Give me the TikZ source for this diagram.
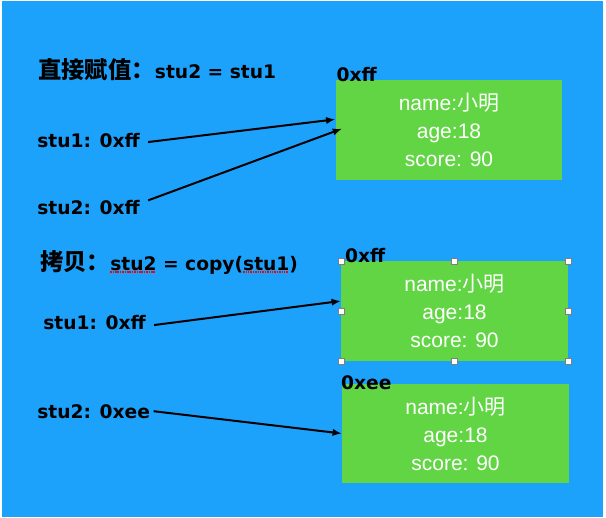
\documentclass[tikz,border=0pt]{standalone}
\usepackage{fontspec}
\usetikzlibrary{arrows.meta, positioning}
\setmainfont{Liberation Sans}
\newfontfamily\labelfont{DejaVu Sans}
\newfontfamily\cjkfont{Noto Sans CJK SC}
\definecolor{bgblue}{HTML}{1DA2FC}
\definecolor{objgreen}{HTML}{62D545}
\definecolor{handlegray}{HTML}{7F7F7F}
\newcommand{\cjktitle}[1]{{\cjkfont\fontsize{17.5}{20}\selectfont #1}}
\newsavebox{\spellbox}
\newcommand{\spellmark}[1]{\sbox{\spellbox}{#1}%
  \rlap{\color{red}\leaders\hbox{\rule[-2pt]{1.1pt}{0.9pt}\kern0.7pt}\hskip\wd\spellbox}\usebox{\spellbox}}

\tikzset{
  title/.style={anchor=base west, inner sep=0pt, font=\labelfont\bfseries\fontsize{14}{17}\selectfont},
  ptr/.style={anchor=base west, inner xsep=6pt, inner ysep=0pt, font=\labelfont\bfseries\fontsize{14}{17}\selectfont},
  addr/.style={anchor=base west, inner sep=0pt, font=\labelfont\bfseries\fontsize{14}{17}\selectfont},
  obj/.style={fill=objgreen, minimum width=170pt, minimum height=74.5pt, inner sep=0pt,
              align=center, text=white, font=\fontsize{15.75}{21}\selectfont},
  link/.style={-{Latex[length=7pt,width=5.5pt]}, line width=1.5pt},
  handle/.style={draw=handlegray, fill=white, line width=0.4pt, minimum size=4.5pt, inner sep=0pt}
}

\begin{document}
\begin{tikzpicture}[x=0.75pt, y=-0.75pt]
  \useasboundingbox (0,0) rectangle (606,517);
  \fill[bgblue] (2,1) rectangle (603,517);

  % direct assignment: both names share one object
  \node[title] (t1) at (38,79) {\cjktitle{直接赋值：}stu2 = stu1};
  \node[obj] (m1) at (449,130) {name:{\cjkfont 小明}\\age:18\\score: 90};
  \node[addr] (a1) at ([xshift=0.75pt, yshift=-1.1pt]m1.north west) {0xff};
  \node[ptr] (p1) at (29,147) {stu1: 0xff};
  \node[ptr] (p2) at (29,214) {stu2: 0xff};
  \draw[link] ([yshift=-1.5pt]p1.east) -- ([yshift=8pt]m1.west);
  \draw[link] ([yshift=5pt]p2.east) -- ([xshift=5pt, yshift=1pt]m1.west);

  % copy: a second object
  \node[title] (t2) at (40,270) {\cjktitle{拷贝：}\spellmark{stu2} = copy(\spellmark{stu1})};
  \node[obj] (m2) at (454.5,311) {name:{\cjkfont 小明}\\age:18\\score: 90};
  \node[addr] (a2) at ([xshift=3pt, yshift=-0.75pt]m2.north west) {0xff};
  \foreach \pos in {north west, north, north east, east, south east, south, south west, west}
    \node[handle] at (m2.\pos) {};
  \node[obj] (m3) at (455.5,433.5) {name:{\cjkfont 小明}\\age:18\\score: 90};
  \node[addr] (a3) at ([xshift=-0.75pt, yshift=-4.5pt]m3.north west) {0xee};
  \node[ptr] (p3) at (35,329) {stu1: 0xff};
  \node[ptr] (p4) at (29,418) {stu2: 0xee};
  \draw[link] ([yshift=-2.25pt]p3.east) -- ([yshift=7.5pt]m2.west);
  \draw[link] ([xshift=-3.5pt]p4.east) -- (m3.west);
\end{tikzpicture}
\end{document}
